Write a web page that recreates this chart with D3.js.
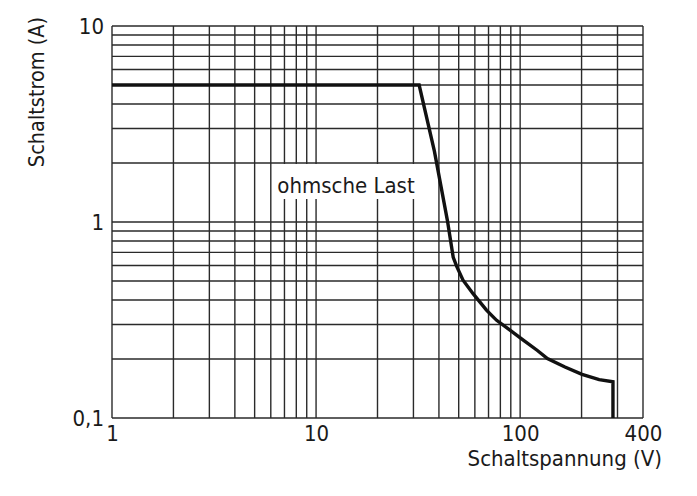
<!DOCTYPE html>
<html><head><meta charset="utf-8">
<script src="https://cdn.jsdelivr.net/npm/d3@7"></script>
<style>
body{margin:0;background:#fff}
text{font-family:"Liberation Sans Narrow","DejaVu Sans Condensed",Roboto,sans-serif;fill:#1a1a1a}
</style></head><body>
<svg id="c" width="697" height="496"></svg>
<script>
// Data
const voltage = [1, 32, 38, 44, 47, 49, 52.5, 58.8, 68.4, 76.7, 89.5, 104, 121.5, 136, 165.8, 201, 244, 285, 285];
const current = [5, 5, 2.3, 1.02, 0.66, 0.59, 0.505, 0.431, 0.355, 0.315, 0.28, 0.249, 0.221, 0.201, 0.182, 0.167, 0.157, 0.153, 0.1];
const xTickValues = [1, 10, 100, 400];
const xTickLabels = ["1", "10", "100", "400"];
const yTickValues = [0.1, 1, 10];
const yTickLabels = ["0,1", "1", "10"];
const xGrid = [2,3,4,5,6,7,8,9,10,20,30,40,50,60,70,80,90,100,200,300,400];
const yGrid = [0.2,0.3,0.4,0.5,0.6,0.7,0.8,0.9,1,2,3,4,5,6,7,8,9,10];
const xTitle = "Schaltspannung (V)";
const yTitle = "Schaltstrom (A)";
const annotation = "ohmsche Last";

const svg = d3.select("#c");
const x = d3.scaleLog().domain([1, 400]).range([112, 643]);
const y = d3.scaleLog().domain([0.1, 10]).range([418, 26]);

const grid = svg.append("g").attr("stroke", "#2a2a2a").attr("stroke-width", 1.4);
grid.selectAll("line.v").data(xGrid).join("line")
  .attr("x1", d => x(d)).attr("x2", d => x(d)).attr("y1", y(10)).attr("y2", y(0.1));
grid.selectAll("line.h").data(yGrid).join("line")
  .attr("y1", d => y(d)).attr("y2", d => y(d)).attr("x1", x(1)).attr("x2", x(400));
// left & bottom frame
grid.append("line").attr("x1", x(1)).attr("x2", x(1)).attr("y1", y(10)).attr("y2", y(0.1));
grid.append("line").attr("x1", x(1)).attr("x2", x(400)).attr("y1", y(0.1)).attr("y2", y(0.1));

// annotation with white background
const ax = 346, ay = 193;
svg.append("rect").attr("x", 272).attr("y", 164).attr("width", 146).attr("height", 35).attr("fill", "#fff");
svg.append("text").attr("x", ax).attr("y", ay).attr("text-anchor", "middle")
  .attr("font-size", 22).text(annotation);

// curve
const pts = voltage.map((v, i) => [v, current[i]]);
svg.append("path").datum(pts)
  .attr("fill", "none").attr("stroke", "#111").attr("stroke-width", 3.4)
  .attr("stroke-linejoin", "miter")
  .attr("d", d3.line().x(d => x(d[0])).y(d => y(d[1])));

// axes labels
const xa = d3.axisBottom(x).tickValues(xTickValues).tickSize(0).tickFormat((d, i) => xTickLabels[i]);
const gx = svg.append("g").attr("transform", `translate(0,${y(0.1)+3})`).call(xa);
gx.select(".domain").remove();
gx.selectAll("text").attr("font-size", 22).attr("fill", "#1a1a1a").attr("dy", "0.75em")
  .style("font-family", '"Liberation Sans Narrow","DejaVu Sans Condensed",Roboto,sans-serif');

const ya = d3.axisLeft(y).tickValues(yTickValues).tickSize(0).tickFormat((d, i) => yTickLabels[i]);
const gy = svg.append("g").attr("transform", `translate(${x(1)-5},0)`).call(ya);
gy.select(".domain").remove();
gy.selectAll("text").attr("font-size", 22).attr("fill", "#1a1a1a")
  .style("font-family", '"Liberation Sans Narrow","DejaVu Sans Condensed",Roboto,sans-serif');

svg.append("text").attr("x", 662).attr("y", 466).attr("text-anchor", "end")
  .attr("font-size", 22).text(xTitle);
svg.append("text").attr("transform", "translate(44,92) rotate(-90)").attr("text-anchor", "middle")
  .attr("font-size", 21.5).text(yTitle);
</script></body></html>
